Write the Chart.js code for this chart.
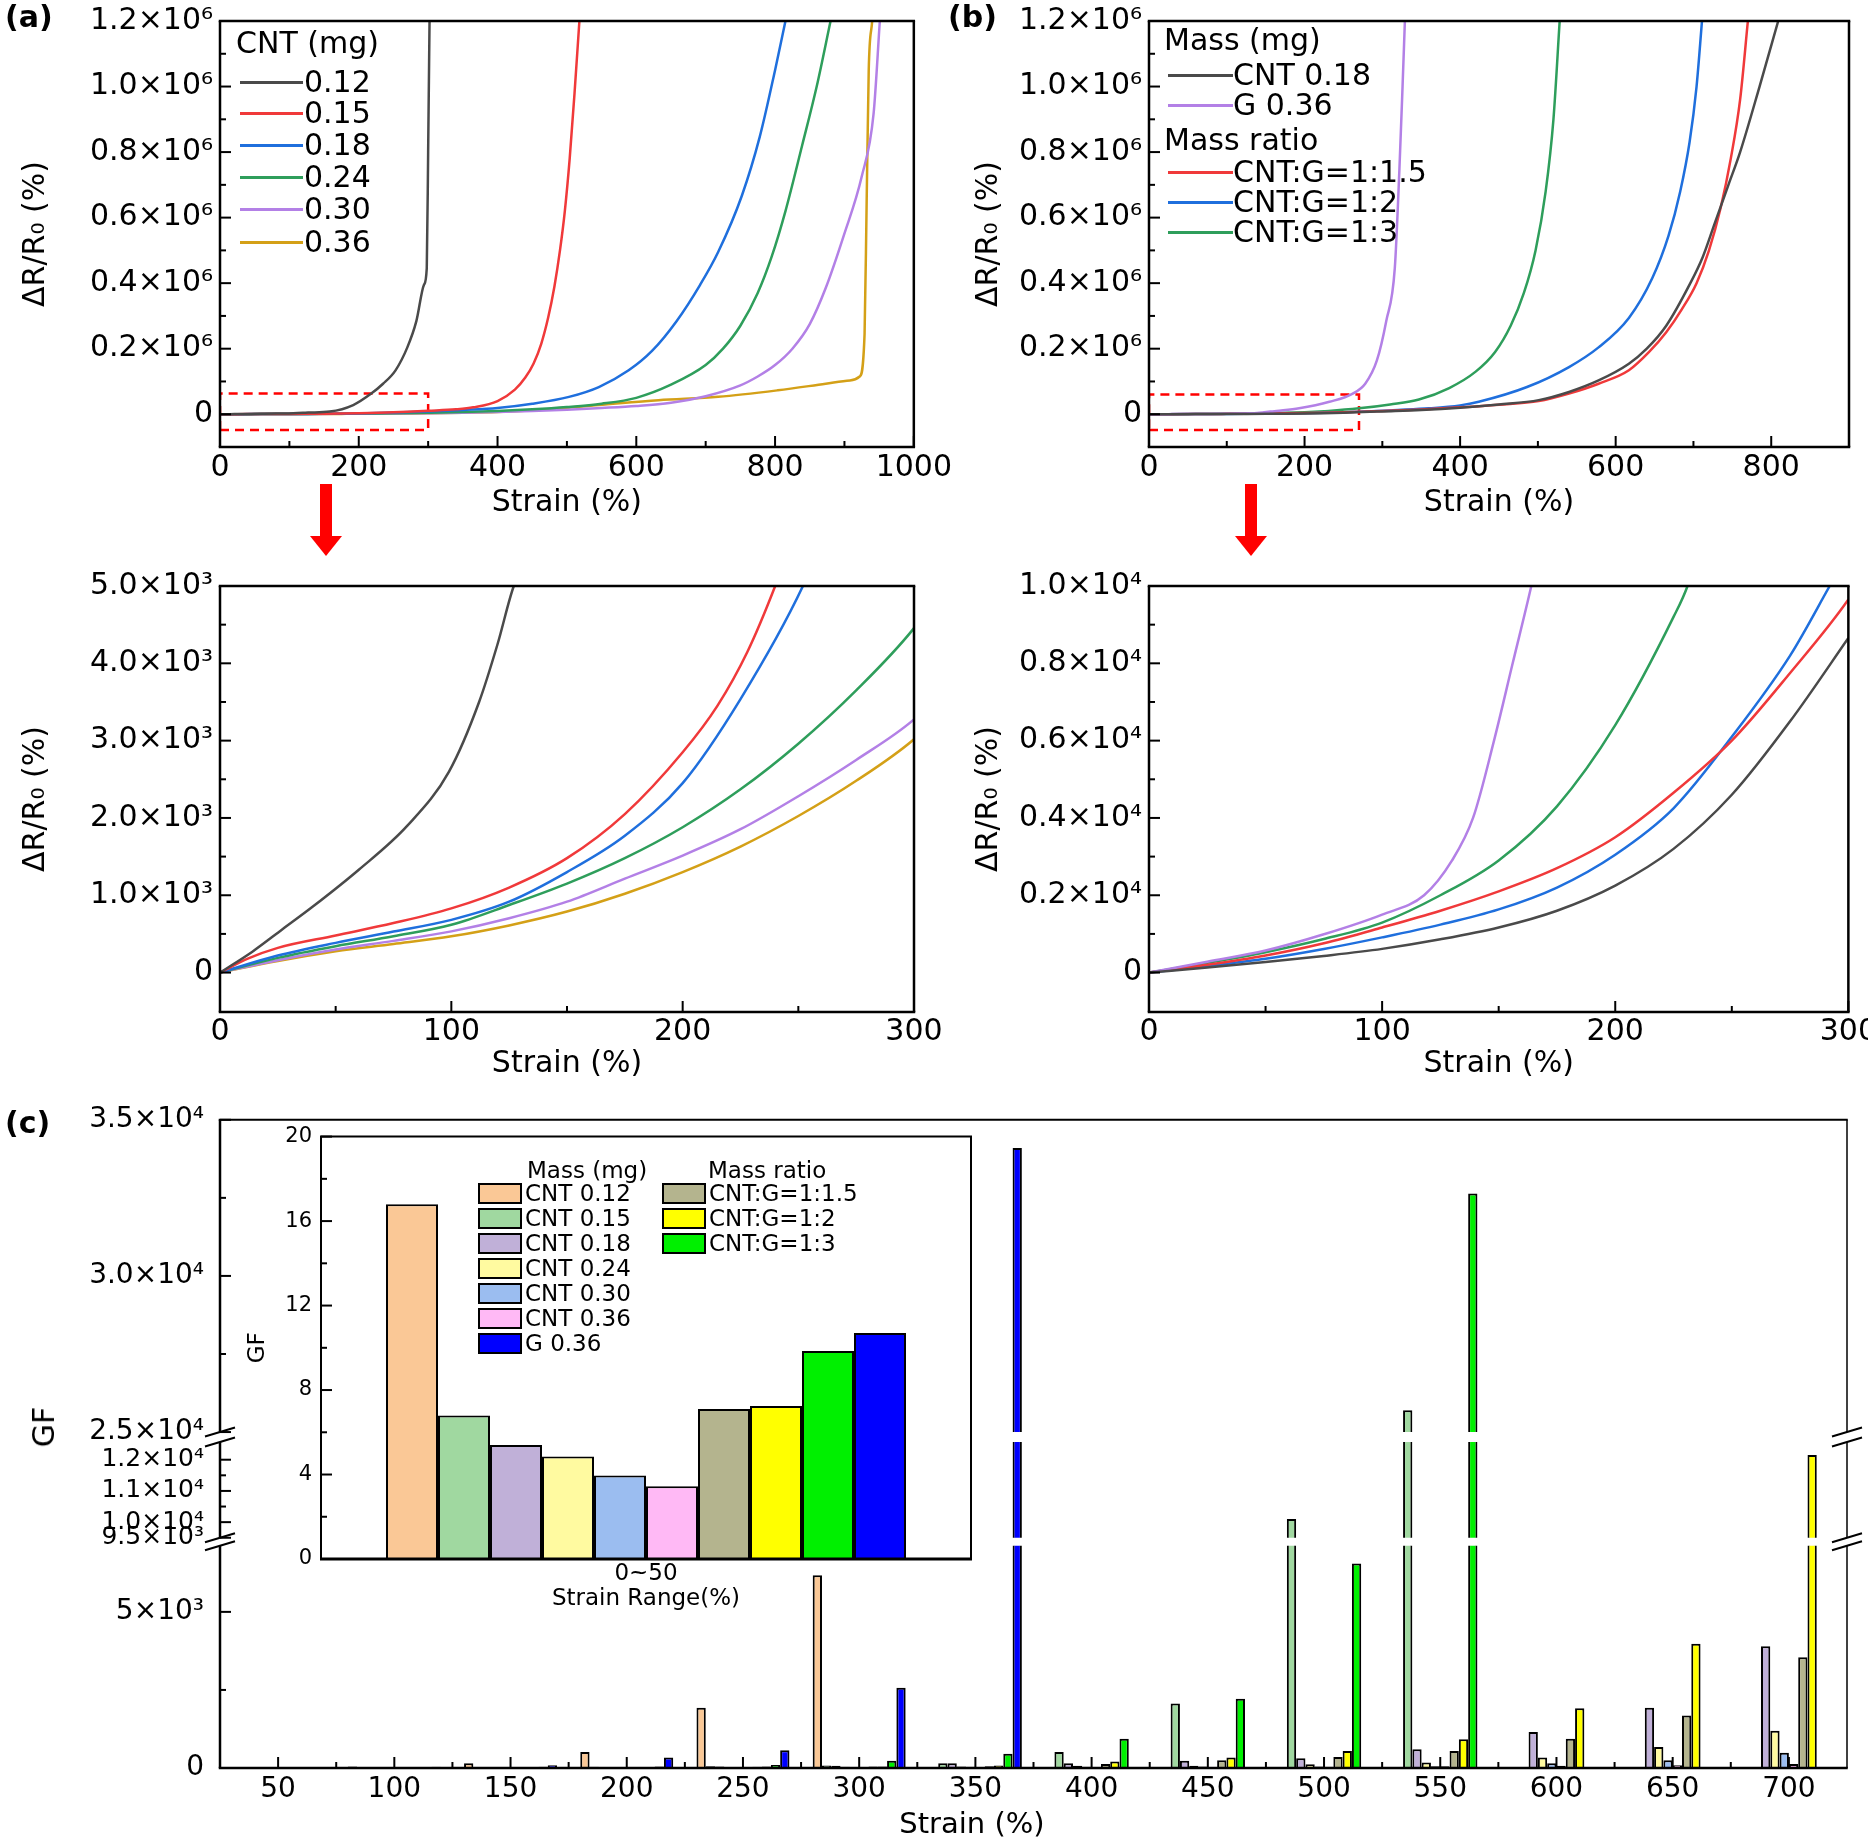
<!DOCTYPE html>
<html><head><meta charset="utf-8">
<script src="https://cdn.jsdelivr.net/npm/chart.js@4.4.1/dist/chart.umd.min.js"></script>
<style>
html,body{margin:0;padding:0;background:#fff;overflow:hidden;}
#page{position:relative;width:1868px;height:1847px;overflow:hidden;background:#fff;font-family:'DejaVu Sans',sans-serif;color:#000;}
#page canvas{position:absolute;}
.t{position:absolute;white-space:nowrap;line-height:1;}
</style></head><body><div id="page"></div>
<script>
// ---------------- DATA ----------------
// Panel (a): CNT loading series, [strain %, ΔR/R0 %]
const a012 = [[0,0],[14,270],[27,560],[40,850],[60,1330],[81,1900],[99,2600],[112,3500],[120,4250],[127,5000],[158,8000],[192,28000],[218,63000],[235,93000],[253,134000],[270,204000],[283,284000],[294,395000],[298,445000],[300,800000],[302,1200000]];
const a015 = [[0,0],[12,180],[25,320],[50,480],[75,640],[100,830],[125,1100],[150,1480],[175,2050],[200,2850],[215,3450],[228,4150],[240,5000],[270,7500],[300,10500],[340,15000],[365,21000],[400,40000],[425,75000],[440,112000],[452,155000],[463,215000],[473,295000],[482,390000],[490,500000],[497,620000],[504,780000],[511,980000],[518,1200000]];
const a018 = [[0,0],[25,220],[50,384],[75,530],[100,682],[125,917],[150,1300],[175,1769],[200,2451],[225,3538],[252,5000],[300,8500],[350,13000],[400,19000],[450,32000],[503,53000],[546,83000],[589,134000],[623,194000],[658,284000],[692,395000],[718,495000],[752,666000],[778,847000],[800,1050000],[815,1200000]];
const a024 = [[0,0],[25,190],[50,341],[75,470],[100,618],[125,874],[150,1151],[175,1480],[200,1880],[225,2370],[250,2960],[275,3650],[300,4455],[350,6600],[400,10000],[450,15000],[500,22000],[550,32000],[600,50000],[650,90000],[700,150000],[725,200000],[750,270000],[775,370000],[795,480000],[815,620000],[839,820000],[860,1000000],[880,1200000]];
const a030 = [[0,0],[25,160],[50,298],[75,410],[100,533],[125,703],[150,917],[175,1215],[200,1513],[225,1854],[250,2281],[275,2750],[300,3274],[350,4800],[400,7000],[450,10000],[500,14000],[550,19000],[600,25000],[650,35000],[700,55000],[750,88000],[775,115000],[800,150000],[825,200000],[850,275000],[873,385000],[899,545000],[925,726000],[942,917000],[951,1200000]];
const a036 = [[0,0],[25,150],[50,277],[75,370],[100,469],[125,610],[150,789],[175,1020],[200,1300],[225,1630],[250,2025],[275,2480],[300,3018],[350,4500],[400,7000],[459,13000],[546,28000],[632,43000],[718,53000],[804,73000],[873,93000],[908,103000],[922,115000],[929,244000],[932,646000],[935,1050000],[940,1200000]];
// Panel (b)
const bCNT018 = [[0,0],[25,130],[50,272],[75,430],[100,613],[125,860],[150,1166],[175,1600],[200,2250],[225,3200],[250,4600],[275,6500],[300,8655],[350,13000],[400,20000],[450,30000],[501,43000],[540,68000],[578,103000],[617,154000],[640,200000],[665,270000],[696,400000],[712,480000],[727,580000],[745,700000],[760,800000],[785,1000000],[809,1200000]];
const bG036 = [[0,0],[25,280],[50,570],[75,990],[100,1500],[118,2000],[130,2900],[139,4000],[148,6000],[156,8000],[164,10000],[193,18000],[232,38000],[262,63000],[278,93000],[293,164000],[305,284000],[316,445000],[322,750000],[326,1000000],[329,1200000]];
const bR115 = [[0,0],[25,200],[50,443],[75,760],[100,1166],[125,1600],[150,2100],[175,2700],[200,3500],[225,4650],[250,6000],[275,7750],[300,9650],[350,14500],[400,21000],[450,29000],[501,40000],[540,63000],[578,93000],[617,134000],[643,190000],[665,250000],[685,320000],[704,400000],[720,500000],[735,630000],[748,780000],[760,960000],[770,1200000]];
const bR12 = [[0,0],[25,170],[50,357],[75,610],[100,910],[125,1240],[150,1634],[175,2200],[200,3050],[225,4250],[250,6100],[275,8200],[292,10000],[320,13000],[360,18000],[400,27000],[424,38000],[486,83000],[540,144000],[578,204000],[617,294000],[647,415000],[668,545000],[683,680000],[695,830000],[704,1000000],[711,1200000]];
const bR13 = [[0,0],[25,250],[50,528],[75,868],[100,1293],[125,2000],[150,2900],[175,4300],[200,6400],[225,9200],[231,10000],[270,18000],[310,30000],[347,45000],[386,80000],[420,130000],[445,190000],[465,270000],[482,370000],[497,500000],[510,680000],[520,900000],[528,1200000]];
// zoom boxes (dashed red)
const aZoomBox = [[0,-48000],[300,-48000],[300,63000],[0,63000],[0,-48000]];
const bZoomBox = [[0,-48000],[270,-48000],[270,60000],[0,60000],[0,-48000]];

// Panel (c): GF per strain range
const gfGroups = ['50','100','150','200','250','300','350','400','450','500','550','600','650','700'];
const gfCNT012 = [20,50,150,510,1930,6170,null,null,null,null,null,null,null,null];
const gfCNT015 = [10,15,30,40,60,80,150,515,2065,10100,25700,null,null,null];
const gfCNT018 = [8,12,20,30,45,70,150,150,230,315,600,1150,1930,3900];
const gfCNT024 = [6,10,15,20,30,40,50,70,70,120,180,335,670,1195];
const gfCNT030 = [5,8,12,16,22,30,40,40,50,50,60,150,250,490];
const gfCNT036 = [5,7,10,14,18,22,28,30,35,40,60,70,90,125];
const gfR115 = [8,12,20,30,40,50,60,125,250,356,545,940,1680,3550];
const gfR12 = [8,12,20,30,45,50,80,210,335,545,920,1910,3980,12150];
const gfR13 = [10,15,40,50,100,230,460,940,2220,6550,32640,null,null,null];
const gfG036 = [12,40,90,335,566,2570,34100,null,null,null,null,null,null,null];
// inset: GF in 0~50 % range
const insetCategory = ['0~50'];
const insetGF = [16.8,6.8,5.4,4.85,3.95,3.45,7.1,7.25,9.85,10.7];

// tick values / labels
const aTopXTicks = [0,200,400,600,800,1000];
const bTopXTicks = [0,200,400,600,800];
const botXTicks = [0,100,200,300];
const topYTicks = [0,200000,400000,600000,800000,1000000,1200000];
const topYLabels = ['0','0.2×10⁶','0.4×10⁶','0.6×10⁶','0.8×10⁶','1.0×10⁶','1.2×10⁶'];
const aBotYTicks = [0,1000,2000,3000,4000,5000];
const aBotYLabels = ['0','1.0×10³','2.0×10³','3.0×10³','4.0×10³','5.0×10³'];
const bBotYTicks = [0,2000,4000,6000,8000,10000];
const bBotYLabels = ['0','0.2×10⁴','0.4×10⁴','0.6×10⁴','0.8×10⁴','1.0×10⁴'];
const gfLowTicks = [0,5000], gfLowLabels = ['0','5×10³'];
const gfMidTicks = [9500,10000,11000,12000], gfMidLabels = ['9.5×10³','1.0×10⁴','1.1×10⁴','1.2×10⁴'];
const gfHighTicks = [25000,30000,35000], gfHighLabels = ['2.5×10⁴','3.0×10⁴','3.5×10⁴'];
const insetYTicks = [0,4,8,12,16,20];

// ---------------- SETUP ----------------
Chart.defaults.font.family = "'DejaVu Sans', sans-serif";
Chart.defaults.color = '#000';
const page = document.getElementById('page');

const COL = {gray:'#4a4a4a', red:'#f0393a', blue:'#1f6fdd', green:'#2e9e5b', purple:'#b380e6', gold:'#d4a017'};
const aSeries = [
  {name:'0.12', color:COL.gray, pts:a012},
  {name:'0.15', color:COL.red, pts:a015},
  {name:'0.18', color:COL.blue, pts:a018},
  {name:'0.24', color:COL.green, pts:a024},
  {name:'0.30', color:COL.purple, pts:a030},
  {name:'0.36', color:COL.gold, pts:a036}
];
const bSeries = [
  {name:'CNT 0.18', color:COL.gray, pts:bCNT018},
  {name:'G 0.36', color:COL.purple, pts:bG036},
  {name:'CNT:G=1:1.5', color:COL.red, pts:bR115},
  {name:'CNT:G=1:2', color:COL.blue, pts:bR12},
  {name:'CNT:G=1:3', color:COL.green, pts:bR13}
];
const cSeries = [
  {name:'CNT 0.12', color:'#FAC896', gf:gfCNT012},
  {name:'CNT 0.15', color:'#A0D8A0', gf:gfCNT015},
  {name:'CNT 0.18', color:'#C0B0D8', gf:gfCNT018},
  {name:'CNT 0.24', color:'#FFFAA0', gf:gfCNT024},
  {name:'CNT 0.30', color:'#9BBDF0', gf:gfCNT030},
  {name:'CNT 0.36', color:'#FFB9F5', gf:gfCNT036},
  {name:'CNT:G=1:1.5', color:'#B4B48E', gf:gfR115},
  {name:'CNT:G=1:2', color:'#FFFF00', gf:gfR12},
  {name:'CNT:G=1:3', color:'#00F000', gf:gfR13},
  {name:'G 0.36', color:'#0000FF', gf:gfG036}
];

const odd = (a, b, step) => { const r = []; for (let v = a; v <= b + 1e-9; v += step) r.push(v); return r; };

function makeFrame(o) {
  return {
    id: 'frame',
    beforeDatasetsDraw(chart) {
      if (!o.fill) return;
      const {ctx, chartArea: a} = chart;
      ctx.save(); ctx.fillStyle = o.fill; ctx.fillRect(a.left, a.top, a.right - a.left, a.bottom - a.top); ctx.restore();
    },
    afterDraw(chart) {
      const {ctx, chartArea: a} = chart;
      ctx.save();
      ctx.strokeStyle = '#000'; ctx.lineCap = 'butt';
      const minor = o.minor || {}, noMajor = o.noMajor || [];
      for (const s of Object.values(chart.scales)) {
        const horiz = s.isHorizontal();
        const mark = (v, len) => {
          const p = s.getPixelForValue(v);
          ctx.lineWidth = 2; ctx.beginPath();
          if (horiz) { ctx.moveTo(p, a.bottom); ctx.lineTo(p, a.bottom - len); }
          else { ctx.moveTo(a.left, p); ctx.lineTo(a.left + len, p); }
          ctx.stroke();
        };
        if (!noMajor.includes(s.id)) s.ticks.forEach(t => mark(t.value, o.majorLen || 11));
        (minor[s.id] || []).forEach(v => mark(v, o.minorLen || 6));
      }
      const lw = o.lw || {};
      const L = lw.l || 2.5, B = lw.b || 2.5, T = lw.t || 2.5, R = lw.r || 2.5;
      const seg = (x1, y1, x2, y2, w) => { ctx.lineWidth = w; ctx.beginPath(); ctx.moveTo(x1, y1); ctx.lineTo(x2, y2); ctx.stroke(); };
      seg(a.left - L/2, a.top, a.right + R/2, a.top, T);
      seg(a.left - L/2, a.bottom, a.right + R/2, a.bottom, B);
      if (o.segs) {
        const parts = o.segs.map(([id, it, ib]) => [chart.scales[id].top + it, chart.scales[id].bottom - ib]);
        parts.forEach(([y1, y2], i) => {
          const ya = i === 0 ? a.top : y1, yb = i === parts.length - 1 ? a.bottom : y2;
          seg(a.left, ya, a.left, yb, L);
          seg(a.right, ya, a.right, yb, R);
        });
        for (let i = 0; i < parts.length - 1; i++) {
          for (const y of [parts[i][1], parts[i + 1][0]]) {
            for (const x of [a.left, a.right]) seg(x - 15, y + 4.5, x + 15, y - 4.5, 2);
          }
        }
      } else {
        seg(a.left, a.top, a.left, a.bottom, L);
        seg(a.right, a.top, a.right, a.bottom, R);
      }
      ctx.restore();
    }
  };
}

function makeSegClip(insets) {
  return {
    id: 'segclip',
    beforeDatasetDraw(chart, args) {
      const ds = chart.data.datasets[args.index];
      const ins = insets[ds.yAxisID]; if (!ins) return;
      const s = chart.scales[ds.yAxisID], a = chart.chartArea, ctx = chart.ctx;
      ctx.save(); ctx.beginPath();
      ctx.rect(a.left, s.top + ins[0], a.right - a.left, s.bottom - s.top - ins[0] - ins[1]);
      ctx.clip();
    },
    afterDatasetDraw(chart, args) {
      const ds = chart.data.datasets[args.index];
      if (insets[ds.yAxisID]) chart.ctx.restore();
    }
  };
}

function makeChart({area, pad, yw, xh, config}) {
  const w = pad.l + yw + (area.r - area.l) + pad.r;
  const h = pad.t + (area.b - area.t) + xh + pad.b;
  const cv = document.createElement('canvas');
  cv.width = w; cv.height = h;
  cv.style.left = (area.l - yw - pad.l) + 'px';
  cv.style.top = (area.t - pad.t) + 'px';
  cv.style.width = w + 'px'; cv.style.height = h + 'px';
  page.appendChild(cv);
  const o = config.options;
  o.responsive = false; o.animation = false; o.devicePixelRatio = 1; o.events = [];
  o.layout = {padding: {left: pad.l, top: pad.t, right: pad.r, bottom: pad.b}};
  o.plugins = Object.assign({legend: {display: false}, tooltip: {enabled: false}}, o.plugins || {});
  for (const [id, s] of Object.entries(o.scales)) {
    const horiz = id.startsWith('x');
    s.afterFit = (sc) => { if (horiz) sc.height = xh; else sc.width = yw; };
  }
  return new Chart(cv, config);
}

const fixTicks = (vals) => (s) => { s.ticks = vals.map(v => ({value: v})); };
function linX(min, max, ticks, pad) {
  return {type: 'linear', min, max, grid: {display: false, drawTicks: false}, border: {display: false},
    ticks: {font: {size: 30}, padding: pad, autoSkip: false, maxRotation: 0, callback: (v) => String(v)},
    afterBuildTicks: fixTicks(ticks),
    title: {display: true, text: 'Strain (%)', font: {size: 30}, padding: {top: 0, bottom: 0}}};
}
function linY(min, max, ticks, labels, tpad) {
  return {type: 'linear', min, max, grid: {display: false, drawTicks: false}, border: {display: false},
    ticks: {font: {size: 30}, padding: 7, autoSkip: false, callback: (v, i) => labels[i]},
    afterBuildTicks: fixTicks(ticks),
    title: {display: true, text: 'ΔR/R₀ (%)', font: {size: 30}, padding: {top: tpad, bottom: 0}}};
}
const lineDs = (s) => ({label: s.name, data: s.pts.map(([x, y]) => ({x, y})), borderColor: s.color, borderWidth: 2.5,
  pointRadius: 0, fill: false, cubicInterpolationMode: 'monotone'});
const boxDs = (pts) => ({label: 'zoom', data: pts.map(([x, y]) => ({x, y})), borderColor: '#ff0000', borderWidth: 2.5,
  borderDash: [9, 6], pointRadius: 0, fill: false, tension: 0});

// (a) top
makeChart({area: {l: 220, t: 16, r: 915, b: 447}, pad: {l: 5, t: 20, r: 40, b: 5}, yw: 215, xh: 74,
  config: {type: 'line', data: {datasets: [...aSeries.map(lineDs), boxDs(aZoomBox)]},
    options: {scales: {x: linX(0, 1000, aTopXTicks, 3), y: linY(-100000, 1200000, topYTicks, topYLabels, 13)}},
    plugins: [makeFrame({minor: {x: odd(100, 900, 200), y: odd(100000, 1100000, 200000)}})]}});
// (a) bottom
makeChart({area: {l: 220, t: 581, r: 914, b: 1012}, pad: {l: 5, t: 20, r: 40, b: 5}, yw: 215, xh: 70,
  config: {type: 'line', data: {datasets: aSeries.map(lineDs)},
    options: {scales: {x: linX(0, 300, botXTicks, 2), y: linY(-510, 5000, aBotYTicks, aBotYLabels, 13)}},
    plugins: [makeFrame({minor: {x: odd(50, 250, 100), y: odd(500, 4500, 1000)}})]}});
// (b) top
makeChart({area: {l: 1149, t: 16, r: 1849, b: 447}, pad: {l: 5, t: 20, r: 30, b: 5}, yw: 200, xh: 74,
  config: {type: 'line', data: {datasets: [...bSeries.map(lineDs), boxDs(bZoomBox)]},
    options: {scales: {x: linX(0, 900, bTopXTicks, 3), y: linY(-100000, 1200000, topYTicks, topYLabels, 22)}},
    plugins: [makeFrame({minor: {x: odd(100, 700, 200), y: odd(100000, 1100000, 200000)}})]}});
// (b) bottom
makeChart({area: {l: 1149, t: 581, r: 1849, b: 1012}, pad: {l: 5, t: 20, r: 30, b: 5}, yw: 200, xh: 70,
  config: {type: 'line', data: {datasets: bSeries.map(lineDs)},
    options: {scales: {x: linX(0, 300, botXTicks, 2), y: linY(-1020, 10000, bBotYTicks, bBotYLabels, 22)}},
    plugins: [makeFrame({minor: {x: odd(50, 250, 100), y: odd(1000, 9000, 2000)}})]}});

// (c) main broken-axis bar chart
function segY(min, max, ticks, labels, weight, fs) {
  return {type: 'linear', position: 'left', stack: 'gf', stackWeight: weight, stacked: false, min, max,
    grid: {display: false, drawTicks: false}, border: {display: false},
    ticks: {font: {size: fs}, padding: 16, autoSkip: false, callback: (v, i) => labels[i]},
    afterBuildTicks: fixTicks(ticks)};
}
const cDatasets = [];
cSeries.forEach((s, i) => ['y1', 'y2', 'y3'].forEach(ax => cDatasets.push({
  label: s.name, data: s.gf, backgroundColor: s.color, borderColor: '#000', borderWidth: 2,
  yAxisID: ax, stack: 'S' + i, categoryPercentage: 0.8, barPercentage: 1.0})));
makeChart({area: {l: 220, t: 1112, r: 1847, b: 1768}, pad: {l: 5, t: 25, r: 21, b: 5}, yw: 215, xh: 50,
  config: {type: 'bar', data: {labels: gfGroups, datasets: cDatasets},
    options: {scales: {
      x: {type: 'category', offset: true, grid: {display: false, drawTicks: false, offset: true}, border: {display: false},
          ticks: {font: {size: 28}, padding: 5, autoSkip: false, maxRotation: 0, minRotation: 0}},
      y1: segY(0, 7247, gfLowTicks, gfLowLabels, 229, 28),
      y2: segY(9373, 12728, gfMidTicks, gfMidLabels, 106, 25),
      y3: segY(24842, 35000, gfHighTicks, gfHighLabels, 321, 28)}},
    plugins: [makeSegClip({y1: [4, 0], y2: [5, 4], y3: [0, 5]}),
      makeFrame({lw: {l: 2.5, b: 2.5, t: 2, r: 1.5},
        minor: {x: gfGroups.slice(1).map((_, i) => i + 0.5), y1: [2500], y2: [10500, 11500], y3: [27500, 32500]},
        segs: [['y3', 0, 5], ['y2', 5, 4], ['y1', 4, 0]]})]}});

// (c) inset
makeChart({area: {l: 321, t: 1135, r: 971, b: 1559}, pad: {l: 5, t: 20, r: 10, b: 5}, yw: 79, xh: 54,
  config: {type: 'bar', data: {labels: insetCategory, datasets: cSeries.map((s, i) => ({label: s.name, data: [insetGF[i]],
      backgroundColor: s.color, borderColor: '#000', borderWidth: 2, categoryPercentage: 0.8, barPercentage: 1.0}))},
    options: {scales: {
      x: {type: 'category', grid: {display: false, drawTicks: false}, border: {display: false},
          ticks: {font: {size: 23}, padding: 1}, title: {display: true, text: 'Strain Range(%)', font: {size: 23}, padding: {top: 0, bottom: 0}}},
      y: {type: 'linear', min: 0, max: 20, grid: {display: false, drawTicks: false}, border: {display: false},
          ticks: {font: {size: 21}, padding: 9, autoSkip: false, callback: (v) => String(v)}, afterBuildTicks: fixTicks(insetYTicks),
          title: {display: true, text: 'GF', font: {size: 23}, padding: {top: 2, bottom: 0}}}}},
    plugins: [makeFrame({fill: '#fff', noMajor: ['x'], minor: {y: [2, 6, 10, 14, 18]}, lw: {l: 2, b: 3, t: 2, r: 2}})]}});

// ---------------- HTML text / legends ----------------
function txt(s, x, y, size, o = {}) {
  const d = document.createElement('div');
  d.className = 't'; d.textContent = s; d.style.fontSize = size + 'px';
  if (o.bold) d.style.fontWeight = 'bold';
  d.style.left = x + 'px'; d.style.top = y + 'px';
  d.style.transform = o.rot ? 'translate(-50%,-50%) rotate(-90deg)' : (o.center ? 'translate(-50%,-50%)' : 'translateY(-50%)');
  page.appendChild(d);
}
function lineKey(x, y, w, color) {
  const d = document.createElement('div');
  d.style.cssText = `position:absolute;left:${x}px;top:${y - 1.5}px;width:${w}px;height:3px;background:${color}`;
  page.appendChild(d);
}
function swatch(x, y, color) {
  const d = document.createElement('div');
  d.style.cssText = `position:absolute;left:${x}px;top:${y - 10}px;width:44px;height:21px;box-sizing:border-box;border:2px solid #000;background:${color}`;
  page.appendChild(d);
}
txt('(a)', 5, 17, 30, {bold: true});
txt('(b)', 948, 17, 30, {bold: true});
txt('(c)', 5, 1123, 30, {bold: true});

// legend (a)
txt('CNT (mg)', 236, 43, 30);
const aRows = [82, 113, 145, 177, 209, 242];
aSeries.forEach((s, i) => { lineKey(240, aRows[i], 63, s.color); txt(s.name, 304, aRows[i], 30); });
// legend (b)
txt('Mass (mg)', 1164, 40, 30);
txt('Mass ratio', 1164, 140, 30);
const bRows = [75, 105, 172, 202, 232];
bSeries.forEach((s, i) => { lineKey(1168, bRows[i], 65, s.color); txt(s.name, 1233, bRows[i], 30); });
// inset legend
txt('Mass (mg)', 527, 1170, 23);
txt('Mass ratio', 708, 1170, 23);
const insRows = [1193, 1218, 1243, 1268, 1293, 1318, 1343, 1193, 1218, 1243];
cSeries.forEach((s, i) => {
  const col2 = (i >= 6 && i <= 8);
  const x = col2 ? 662 : 478;
  const row = col2 ? insRows[i + 1] : (i === 9 ? insRows[6] : insRows[i]);
  swatch(x, row, s.color); txt(s.name, x + 47, row, 23);
});
// panel (c) axis titles
txt('GF', 44, 1427, 30, {rot: true});
txt('Strain (%)', 972, 1823, 29, {center: true});

// red arrows
for (const cx of [326, 1251]) {
  const d = document.createElement('div');
  d.style.cssText = `position:absolute;left:${cx - 16}px;top:484px;width:32px;height:74px`;
  d.innerHTML = '<svg width="32" height="74"><rect x="10" y="0" width="12" height="54" fill="#ff0000"/><polygon points="0,52 32,52 16,72" fill="#ff0000"/></svg>';
  page.appendChild(d);
}
</script>
</body></html>
